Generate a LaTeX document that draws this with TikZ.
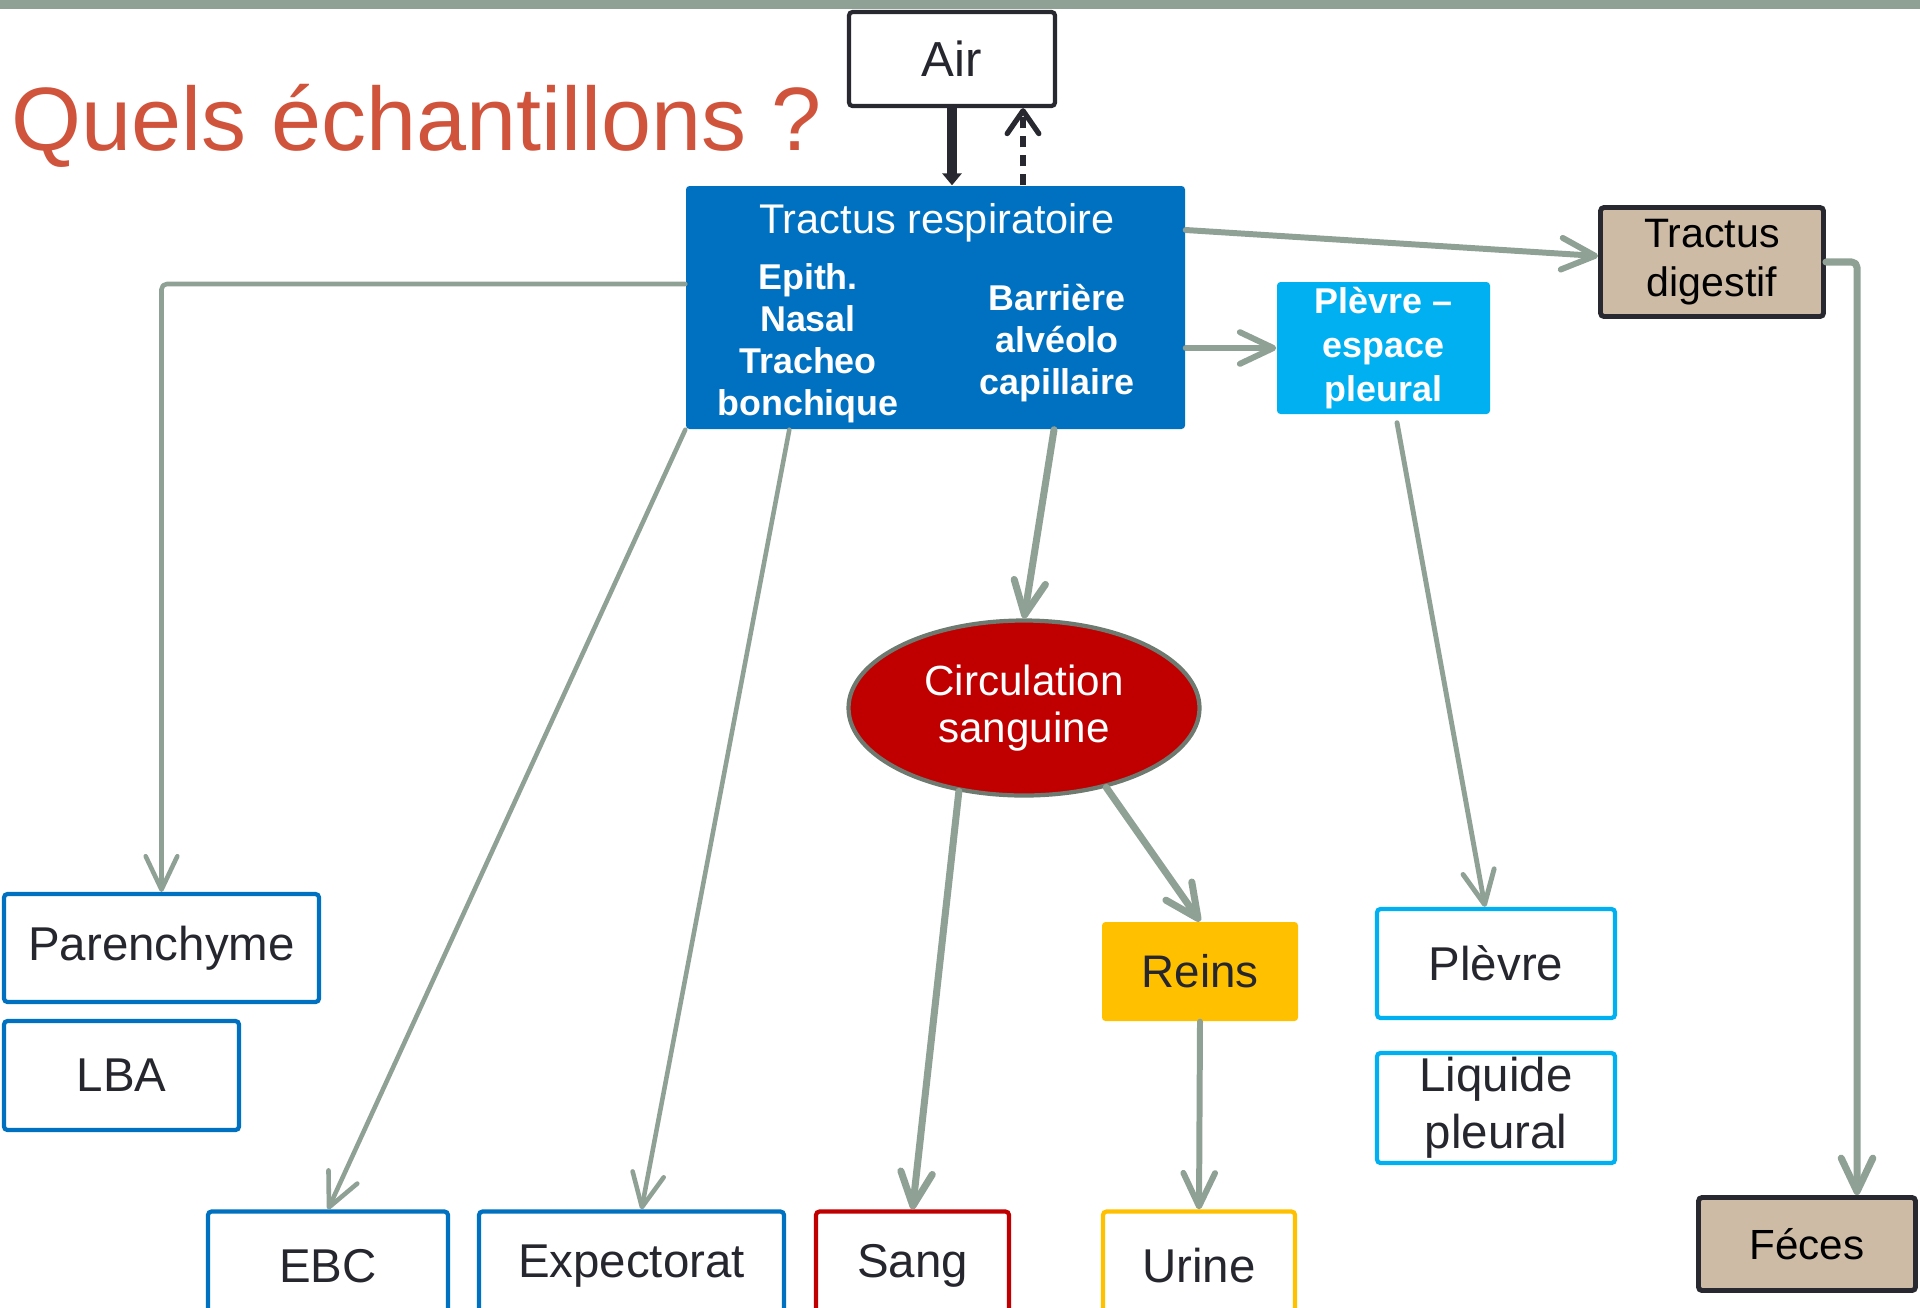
\documentclass[tikz,border=0pt]{standalone}
\usepackage{fontspec}
\setmainfont{Liberation Sans}
\usetikzlibrary{shapes.geometric,arrows.meta}

\definecolor{barre}{RGB}{143,161,149}
\definecolor{lienvert}{RGB}{143,161,149}
\definecolor{titre}{RGB}{208,84,60}
\definecolor{bleuTR}{RGB}{0,112,192}
\definecolor{cyanPE}{RGB}{0,176,240}
\definecolor{rougeC}{RGB}{192,0,0}
\definecolor{orR}{RGB}{255,192,0}
\definecolor{beige}{RGB}{205,187,165}
\definecolor{noir}{RGB}{40,40,48}
\definecolor{bordC}{RGB}{110,122,112}
\definecolor{texte}{RGB}{38,38,46}

\tikzset{
  boite/.style={draw, rectangle, line width=1.2pt, rounded corners=1pt, inner sep=0pt,
    fill=white, text=texte, align=center, font=\fontsize{13.5}{14.5}\selectfont},
  boitebleu/.style={boite, draw=bleuTR},
  boitecyan/.style={boite, draw=cyanPE},
  boitebrun/.style={boite, draw=noir, line width=1.4pt, fill=beige, text=black,
    font=\fontsize{11.7}{13.8}\selectfont},
  gras/.style={text=white, align=center, inner sep=0pt,
    font=\bfseries\fontsize{10.2}{12}\selectfont},
  lien/.style={draw=lienvert, line cap=round, line join=round, rounded corners=1.5pt,
    -{Straight Barb[round,length=9.5pt,width=9pt]}},
}

\begin{document}
\begin{tikzpicture}
\useasboundingbox (0,0) rectangle (19.2,-13.07);
\clip (0,0) rectangle (19.2,-13.07);
\fill[barre] (0,0) rectangle (19.2,-0.09);

\node[anchor=base west, inner sep=0pt, text=titre, font=\fontsize{25.6}{30}\selectfont] (quels) at (0.11,-1.50) {Quels échantillons ?};

% haut
\node[boite, draw=noir, minimum width=2.06cm, minimum height=0.94cm, font=\fontsize{14}{16}\selectfont] (air) at (9.52,-0.59) {Air};
\node[rectangle, fill=bleuTR, rounded corners=1pt, minimum width=4.99cm, minimum height=2.43cm] (tr) at (9.355,-3.075) {};
\node[text=white, inner sep=0pt, font=\fontsize{11.8}{14}\selectfont] (trtitre) at (9.37,-2.23) {Tractus respiratoire};
\node[gras] (epith) at (8.08,-3.43) {Epith.\\Nasal\\Tracheo\\bonchique};
\node[gras] (barriere) at (10.57,-3.43) {Barrière\\alvéolo\\capillaire};
\node[boitebrun, minimum width=2.23cm, minimum height=1.09cm] (td) at (17.12,-2.62) {Tractus\\digestif};
\node[rectangle, fill=cyanPE, rounded corners=1pt, minimum width=2.13cm, minimum height=1.32cm,
  gras, font=\bfseries\fontsize{10.2}{12.4}\selectfont] (pe) at (13.835,-3.48) {Plèvre --\\espace\\pleural};

% milieu
\node[ellipse, draw=bordC, line width=1.2pt, fill=rougeC, inner sep=0pt, minimum width=3.51cm, minimum height=1.75cm,
  text=white, align=center, font=\fontsize{12}{13.6}\selectfont] (circ) at (10.24,-7.08) {Circulation\\sanguine};
\node[rectangle, fill=orR, rounded corners=1pt, minimum width=1.96cm, minimum height=0.99cm,
  text=texte, font=\fontsize{13}{15}\selectfont] (reins) at (12.00,-9.715) {Reins};

% echantillons
\node[boitebleu, minimum width=3.15cm, minimum height=1.08cm] (par) at (1.615,-9.48) {Parenchyme};
\node[boitebleu, minimum width=2.35cm, minimum height=1.09cm] (lba) at (1.215,-10.755) {LBA};
\node[boitebleu, minimum width=2.40cm, minimum height=1.09cm] (ebc) at (3.28,-12.66) {EBC};
\node[boitebleu, minimum width=3.05cm, minimum height=1.09cm] (expec) at (6.315,-12.66) {Expectorat};
\node[boite, draw=rougeC, minimum width=1.93cm, minimum height=1.09cm] (sang) at (9.125,-12.66) {Sang};
\node[boite, draw=orR, minimum width=1.92cm, minimum height=1.09cm] (urine) at (11.99,-12.66) {Urine};
\node[boitecyan, minimum width=2.38cm, minimum height=1.09cm] (plv) at (14.96,-9.635) {Plèvre};
\node[boitecyan, minimum width=2.38cm, minimum height=1.10cm, font=\fontsize{13.5}{16.2}\selectfont] (liq) at (14.96,-11.08) {Liquide\\pleural};
\node[boitebrun, minimum width=2.17cm, minimum height=0.93cm, font=\fontsize{12}{14}\selectfont] (fec) at (18.07,-12.44) {Féces};

% air
\coordinate (airup) at ([xshift=0.71cm]air.south);
\draw[noir, line width=2.6pt, -{Triangle[length=3.4pt,width=5.4pt]}] (air.south) -- (air.south |- tr.north);
\draw[noir, line width=1.5pt, dash pattern=on 3.2pt off 2.2pt, -{Straight Barb[round,length=6.5pt,width=9pt]}] (airup |- tr.north) -- (airup);

% liens
\draw[lien, line width=1.3pt] ([yshift=0.235cm]tr.west) -| (par.north);
\draw[lien, line width=1.3pt] (tr.south west) -- (ebc.north);
\draw[lien, line width=1.3pt] ([xshift=1.04cm]tr.south west) -- ([xshift=0.1cm]expec.north);
\draw[lien, line width=2pt] ([xshift=1.185cm]tr.south) -- (circ.north);
\draw[lien, line width=2pt] (circ.232) -- (sang.north);
\draw[lien, line width=2pt] (circ.-44) -- (reins.north);
\draw[lien, line width=1.7pt] (reins.south) -- (urine.north);
\draw[lien, line width=1.7pt] ([yshift=0.775cm]tr.east) -- ([yshift=0.06cm]td.west);
\draw[lien, line width=1.7pt] (tr.east |- pe.west) -- (pe.west);
\draw[lien, line width=1.4pt] ([xshift=0.135cm,yshift=-0.08cm]pe.south) -- ([xshift=-0.11cm]plv.north);
\draw[lien, line width=2pt] (td.east) -| ([xshift=0.5cm]fec.north);
\end{tikzpicture}
\end{document}
